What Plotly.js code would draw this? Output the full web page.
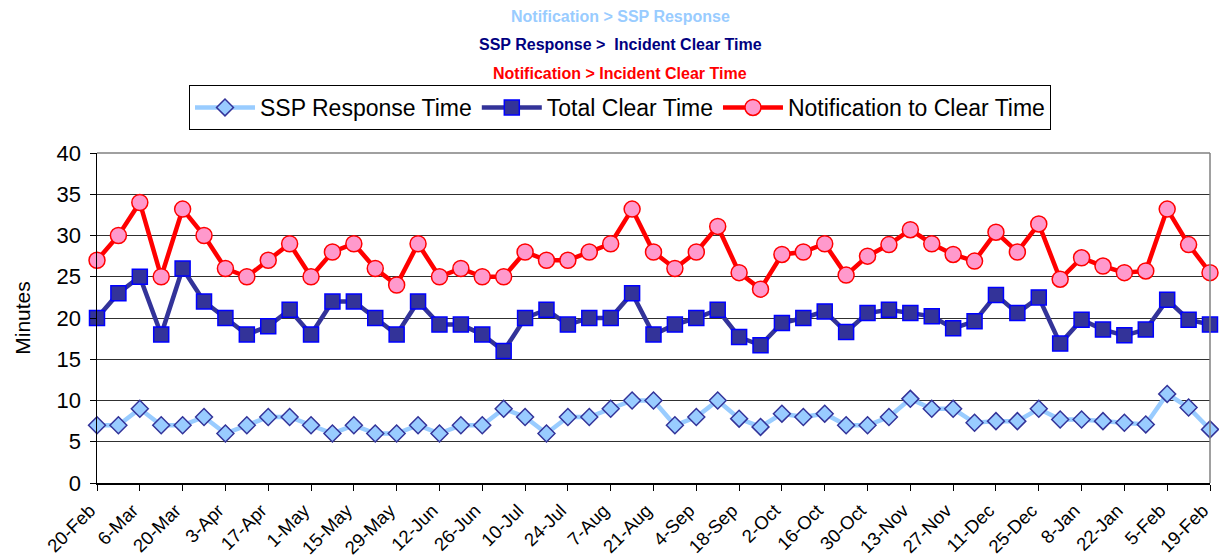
<!DOCTYPE html>
<html>
<head>
<meta charset="utf-8">
<script src="https://cdn.plot.ly/plotly-3.0.1.min.js"></script>
<style>html,body{margin:0;padding:0;background:#fff;}#chart{width:1219px;height:560px;}</style>
</head>
<body>
<div id="chart"></div>
<script>
const weeks = ["20-Feb","27-Feb","6-Mar","13-Mar","20-Mar","27-Mar","3-Apr","10-Apr","17-Apr","24-Apr",
  "1-May","8-May","15-May","22-May","29-May","5-Jun","12-Jun","19-Jun","26-Jun","3-Jul",
  "10-Jul","17-Jul","24-Jul","31-Jul","7-Aug","14-Aug","21-Aug","28-Aug","4-Sep","11-Sep",
  "18-Sep","25-Sep","2-Oct","9-Oct","16-Oct","23-Oct","30-Oct","6-Nov","13-Nov","20-Nov",
  "27-Nov","4-Dec","11-Dec","18-Dec","25-Dec","1-Jan","8-Jan","15-Jan","22-Jan","29-Jan",
  "5-Feb","12-Feb","19-Feb"];
const tickLabels = ["20-Feb","6-Mar","20-Mar","3-Apr","17-Apr","1-May","15-May","29-May","12-Jun","26-Jun",
  "10-Jul","24-Jul","7-Aug","21-Aug","4-Sep","18-Sep","2-Oct","16-Oct","30-Oct","13-Nov",
  "27-Nov","11-Dec","25-Dec","8-Jan","22-Jan","5-Feb","19-Feb"];
const sspResponse = [7,7,9,7,7,8,6,7,8,8,
  7,6,7,6,6,7,6,7,7,9,
  8,6,8,8,9,10,10,7,8,10,
  7.8,6.8,8.4,8,8.4,7,7,8,10.2,9,
  9,7.3,7.5,7.5,9,7.7,7.7,7.5,7.3,7.1,
  10.8,9.15,6.5];
const totalClear = [20,23,25,18,26,22,20,18,19,21,
  18,22,22,20,18,22,19.2,19.2,18,16,
  20,21,19.2,20,20,23,18,19.2,20,21,
  17.7,16.7,19.4,20,20.8,18.3,20.6,21,20.6,20.2,
  18.75,19.6,22.8,20.6,22.5,16.9,19.8,18.6,17.9,18.6,
  22.2,19.8,19.2];
const notifClear = [27,30,34,25,33.2,30,26,25,27,29,
  25,28,29,26,24,29,25,26,25,25,
  28,27,27,28,29,33.2,28,26,28,31.1,
  25.5,23.5,27.7,28,29,25.2,27.5,28.9,30.7,29,
  27.7,26.9,30.4,28,31.4,24.7,27.3,26.3,25.5,25.7,
  33.2,28.9,25.5];
const seriesNames = ["SSP Response Time","Total Clear Time","Notification to Clear Time"];
const titleLines = ["Notification &gt; SSP Response","SSP Response &gt;&nbsp; Incident Clear Time","Notification &gt; Incident Clear Time"];

const FONT = "Liberation Sans, Arial, sans-serif";

const traces = [
  {x: weeks, y: sspResponse, name: seriesNames[0], type: "scatter", mode: "lines+markers", cliponaxis: false,
   line: {color: "#99CCFF", width: 4.5},
   marker: {symbol: "diamond", size: 13, color: "#99CCFF", line: {color: "#333399", width: 1.5}}},
  {x: weeks, y: totalClear, name: seriesNames[1], type: "scatter", mode: "lines+markers", cliponaxis: false,
   line: {color: "#333399", width: 4.5},
   marker: {symbol: "square", size: 15, color: "#333399", line: {color: "#0000FF", width: 1.5}}},
  {x: weeks, y: notifClear, name: seriesNames[2], type: "scatter", mode: "lines+markers", cliponaxis: false,
   line: {color: "#FF0000", width: 4.5},
   marker: {symbol: "circle", size: 16, color: "#FF99CC", line: {color: "#FF0000", width: 1.5}}}
];

const TX = (620 - 97) / 1113;

const layout = {
  width: 1219, height: 560,
  margin: {l: 97, r: 9, t: 153, b: 77},
  paper_bgcolor: "#fff", plot_bgcolor: "#fff",
  font: {family: FONT, color: "#000"},
  showlegend: true,
  legend: {orientation: "h", x: TX, xanchor: "center", y: (483 - 85) / 330, yanchor: "top",
    bordercolor: "#000", borderwidth: 1, bgcolor: "#fff",
    font: {family: FONT, size: 23, color: "#000"}, itemwidth: 60, tracegroupgap: 0},
  xaxis: {type: "category", range: [0, 52], tickmode: "array", tickvals: tickLabels, ticktext: tickLabels,
    tickangle: -45, ticks: "outside", ticklen: 6, tickcolor: "#000", tickfont: {family: FONT, size: 18.5, color: "#000"},
    ticklabelshift: -7, ticklabelstandoff: 2,
    showline: true, linecolor: "#000", linewidth: 1.5, showgrid: false, zeroline: false, fixedrange: true},
  yaxis: {range: [0, 40], dtick: 5, tick0: 0, ticks: "outside", ticklen: 6, tickcolor: "#000",
    tickfont: {family: FONT, size: 22, color: "#000"}, ticklabelstandoff: 4,
    showline: true, linecolor: "#000", linewidth: 1.5, showgrid: true, gridcolor: "#303030", gridwidth: 1,
    zeroline: false, fixedrange: true,
    title: {text: "Minutes", font: {family: FONT, size: 21, color: "#000"}, standoff: 20}},
  shapes: [
    {type: "line", xref: "paper", yref: "paper", x0: 1, x1: 1, y0: 0, y1: 1, line: {color: "#808080", width: 1.5}},
    {type: "line", xref: "paper", yref: "paper", x0: 0, x1: 1, y0: 1, y1: 1, line: {color: "#808080", width: 1.5}}
  ],
  annotations: [
    {text: "<b>" + titleLines[0] + "</b>", xref: "paper", yref: "paper", x: TX, y: (483-16)/330, xanchor: "center", yanchor: "middle", showarrow: false, font: {family: FONT, size: 16, color: "#99CCFF"}},
    {text: "<b>" + titleLines[1] + "</b>", xref: "paper", yref: "paper", x: TX, y: (483-45)/330, xanchor: "center", yanchor: "middle", showarrow: false, font: {family: FONT, size: 16, color: "#000080"}},
    {text: "<b>" + titleLines[2] + "</b>", xref: "paper", yref: "paper", x: TX, y: (483-74)/330, xanchor: "center", yanchor: "middle", showarrow: false, font: {family: FONT, size: 16, color: "#FF0000"}}
  ]
};

Plotly.newPlot("chart", traces, layout, {displayModeBar: false, staticPlot: true});
</script>
</body>
</html>
